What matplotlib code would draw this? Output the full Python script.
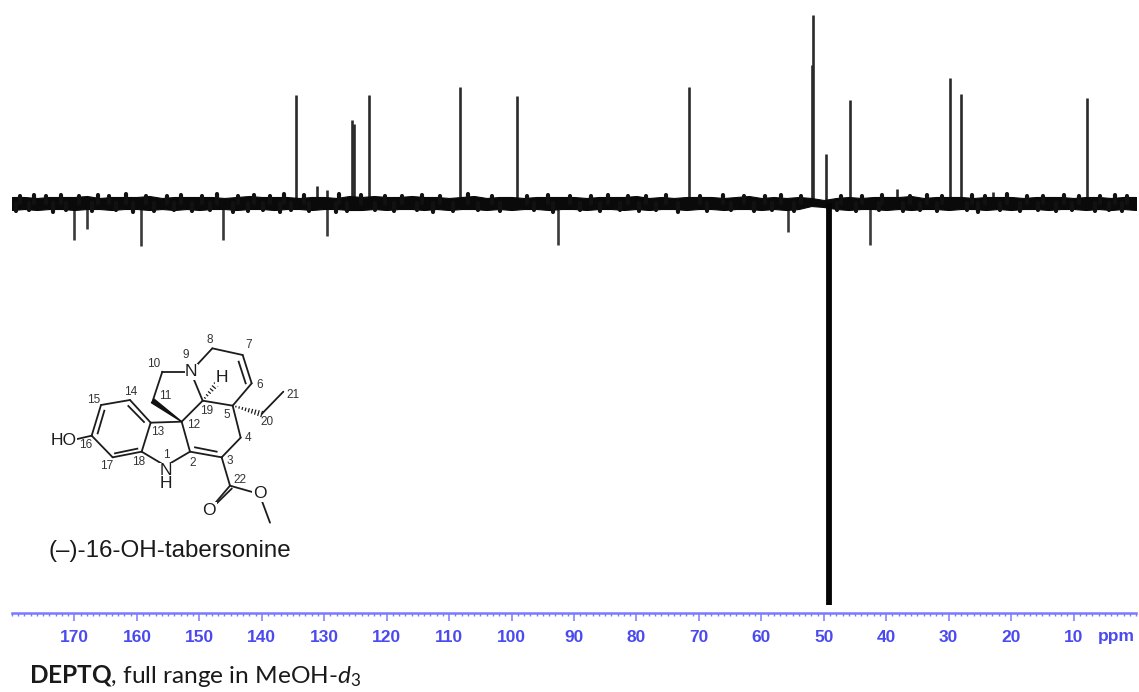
import matplotlib
matplotlib.use("Agg")
import matplotlib.pyplot as plt
from matplotlib.patches import Polygon

plt.rcParams['mathtext.fontset'] = 'custom'
plt.rcParams['mathtext.rm'] = 'Lato'
plt.rcParams['mathtext.it'] = 'Lato:italic'
plt.rcParams['mathtext.bf'] = 'Lato:bold'

# Spectrum peaks (ppm, intensity in arbitrary units, 0 = baseline)
pos_ppm = [134.5, 125.6, 125.3, 122.8, 108.3, 99.1, 71.6, 51.7, 51.95, 49.6, 45.8, 29.8, 28.0, 7.8,
           131.2, 129.6, 38.3, 22.9]
pos_int = [108, 83, 79, 108, 116, 107, 116, 188, 138, 49, 103, 125, 109, 105,
           17, 13, 14, 11]
neg_ppm = [170.1, 168.0, 159.4, 146.2, 129.6, 92.6, 55.7, 42.6]
neg_int = [-37, -26, -43, -37, -33, -42, -29, -42]
solvent_ppm = 49.1
solvent_int = -402

# Baseline band envelope, one value per 2 ppm, from 180 to 0 ppm
band_ppm = list(range(180, -2, -2))
band_top = [6, 6, 5, 6, 6, 6, 7, 5, 6, 6, 6, 7, 5, 6, 6, 6, 6, 5, 6, 7,
            6, 6, 6, 5, 6, 6, 5, 7, 6, 7, 6, 6, 7, 6, 6, 5, 6, 7, 5, 6,
            6, 5, 6, 6, 6, 6, 5, 6, 6, 6, 7, 5, 6, 5, 6, 6, 6, 5, 6, 7,
            5, 6, 5, 6, 5, 3, 5, 6, 5, 6, 6, 6, 7, 5, 6, 6, 6, 5, 6, 6,
            6, 5, 6, 6, 6, 5, 6, 6, 5, 6, 6]
band_bot = [-7, -6, -7, -6, -6, -7, -6, -6, -7, -6, -6, -7, -6, -7, -6, -7, -6, -6, -7, -6,
            -6, -7, -6, -6, -7, -6, -6, -7, -7, -6, -7, -6, -6, -7, -6, -7, -6, -6, -7, -6,
            -7, -6, -6, -7, -6, -6, -7, -6, -6, -7, -6, -7, -6, -6, -7, -6, -6, -7, -6, -6,
            -7, -6, -7, -6, -3, -4, -6, -7, -6, -6, -7, -6, -7, -6, -6, -7, -6, -6, -7, -6,
            -7, -6, -6, -7, -6, -6, -7, -6, -7, -6, -7]

# Small noise bumps on the baseline
up_ppm = [178.7, 176.4, 174.6, 172.1, 169.3, 166.2, 164.5, 161.8, 158.6, 155.2, 152.9, 149.6, 147.1, 143.8,
          141.3, 138.7, 136.4, 133.2, 127.6, 124.1, 120.2, 117.6, 114.3, 111.5, 106.9, 103.2, 97.6, 94.1,
          90.7, 87.2, 84.6, 81.3, 78.4, 75.2, 69.8, 66.1, 62.7, 59.4, 56.8, 53.6, 47.3, 43.9, 40.6, 36.2,
          33.4, 31.1, 26.3, 24.2, 20.7, 17.4, 14.9, 11.6, 9.2, 5.7, 3.3, 1.4]
up_int = [7, 8, 7, 8, 7, 8, 7, 9, 7, 7, 8, 7, 9, 7, 8, 7, 9, 8, 9, 8, 7, 7, 8, 7, 9, 7, 7, 8,
          7, 7, 8, 7, 7, 8, 7, 8, 7, 7, 8, 7, 7, 7, 8, 7, 8, 7, 8, 7, 9, 7, 7, 8, 7, 7, 8, 7]
down_ppm = [179.4, 177.2, 173.5, 171.3, 167.2, 163.4, 160.7, 157.3, 154.1, 151.2, 148.3, 144.6, 142.2, 139.8,
            137.1, 135.3, 132.4, 128.1, 126.4, 121.9, 118.8, 115.1, 112.6, 109.4, 105.3, 101.8, 96.4, 93.3,
            89.1, 85.9, 82.7, 79.6, 76.8, 73.4, 68.7, 64.9, 61.2, 58.3, 54.7, 47.9, 44.8, 41.1, 37.3, 34.6,
            31.9, 27.1, 25.3, 21.8, 18.6, 15.7, 12.8, 10.3, 6.6, 4.4, 2.2]
down_int = [-8, -7, -9, -7, -8, -7, -9, -8, -7, -8, -7, -9, -8, -7, -9, -7, -8, -9, -8, -7, -8, -7, -9,
            -8, -7, -8, -7, -9, -7, -8, -7, -8, -7, -9, -8, -7, -8, -7, -8, -7, -8, -7, -8, -7, -8, -7,
            -9, -7, -8, -7, -8, -7, -8, -7, -8]

major_ticks = [170, 160, 150, 140, 130, 120, 110, 100, 90, 80, 70, 60, 50, 40, 30, 20, 10]
minor_ticks = list(range(180, -1, -1))

# Molecule drawing: points in reference-crop units
atoms = {
    'c16': (275, 287), 'c15': (303, 195), 'c14': (390, 180), 'c13': (452, 248), 'c18': (425, 335),
    'c17': (338, 352), 'c12': (545, 245), 'n1': (497, 378), 'c2': (570, 335), 'c3': (665, 352),
    'c4': (722, 293), 'c5': (698, 197), 'c19': (608, 182), 'n9': (572, 95), 'c10': (487, 95),
    'c11': (458, 183), 'c8': (637, 25), 'c7': (728, 45), 'c6': (755, 130), 'c20': (785, 222),
    'c21': (850, 155), 'c22': (690, 437), 'od': (628, 510), 'os': (778, 462), 'ch3': (810, 548),
    'oh': (232, 297), 'hh': (655, 125),
}
single = [('c16', 'c15'), ('c15', 'c14'), ('c14', 'c13'), ('c13', 'c18'), ('c18', 'c17'), ('c17', 'c16'),
          ('c13', 'c12'), ('c18', 'n1'), ('n1', 'c2'), ('c2', 'c12'), ('c2', 'c3'), ('c3', 'c4'),
          ('c4', 'c5'), ('c5', 'c19'), ('c19', 'c12'), ('c19', 'n9'), ('n9', 'c10'), ('c10', 'c11'),
          ('n9', 'c8'), ('c8', 'c7'), ('c7', 'c6'), ('c6', 'c5'), ('c20', 'c21'), ('c3', 'c22'),
          ('c22', 'os'), ('os', 'ch3'), ('oh', 'c16'), ('c22', 'od')]
inner_double = [((293, 280), (313, 212)), ((385, 198), (432, 246)), ((345, 340), (412, 326)),
                ((585, 322), (650, 335)), ((716, 65), (737, 130)), ((640, 500), (695, 446))]
atom_labels = [('HO', 190, 302, 12.5), ('N', 574, 96, 12.5), ('H', 666, 113, 12.5), ('N', 497, 392, 12.5),
               ('H', 497, 431, 12.5), ('O', 628, 511, 12.5), ('O', 779, 462, 12.5)]
num_labels = [('8', 628, 0), ('7', 747, 16), ('9', 557, 46), ('10', 460, 73), ('6', 779, 135), ('21', 878, 165),
              ('14', 392, 155), ('11', 497, 168), ('15', 282, 180), ('19', 620, 212), ('5', 680, 224),
              ('20', 802, 247), ('12', 582, 256), ('13', 474, 275), ('4', 745, 295), ('16', 258, 316),
              ('1', 500, 345), ('18', 416, 365), ('2', 578, 370), ('3', 688, 364), ('17', 321, 378), ('22', 720, 420)]

W, H = 1139, 692
fig = plt.figure(figsize=(W / 100, H / 100), dpi=100, facecolor='white')
L, R, B = 12, 1136, 613
ax = fig.add_axes([L / W, 1 - B / H, (R - L) / W, B / H])
ax.set_xlim(180, 0)
ax.set_ylim(-410, 203)
ax.patch.set_alpha(0)
for s in ['top', 'left', 'right']:
    ax.spines[s].set_visible(False)
blue = '#4a4af0'
ax.spines['bottom'].set_color('#7a7aff')
ax.spines['bottom'].set_linewidth(1.8)

ax.fill_between(band_ppm, band_bot, band_top, color='#0a0a0a', lw=0.8, zorder=3)
ax.vlines(up_ppm, 0, up_int, color='#111111', lw=3.0, zorder=3, capstyle='round')
ax.vlines(down_ppm, 0, down_int, color='#111111', lw=3.0, zorder=3, capstyle='round')
ax.vlines(pos_ppm, 0, pos_int, color='#2a2a2a', lw=1.9, zorder=2)
ax.vlines(neg_ppm, 0, neg_int, color='#3a3a3a', lw=1.9, zorder=2)
ax.vlines([solvent_ppm], 0, [solvent_int], color='#050505', lw=4.2, zorder=4)

ax.set_yticks([])
ax.set_xticks(major_ticks)
ax.set_xticklabels([str(t) for t in major_ticks], fontsize=12.5, fontweight='bold', color=blue,
                   family='Liberation Sans')
ax.set_xticks(minor_ticks, minor=True)
ax.tick_params(axis='x', which='major', length=6, width=1.1, color='#7a7aff', pad=6)
ax.tick_params(axis='x', which='minor', length=2.2, width=1.0, color='#7a7aff')
fig.text(1116 / W, 1 - 637 / H, 'ppm', fontsize=12.5, fontweight='bold', color=blue,
         family='Liberation Sans', ha='center', va='center')

# Overlay for molecule, in pixels
ov = fig.add_axes([0, 0, 1, 1])
ov.set_xlim(0, W)
ov.set_ylim(H, 0)
ov.axis('off')
ov.patch.set_alpha(0)


def P(p):
    return (p[0] / 3, 340 + p[1] / 3)


mol_c = '#1c1c1c'
for a, b in single:
    pa, pb = P(atoms[a]), P(atoms[b])
    ov.plot([pa[0], pb[0]], [pa[1], pb[1]], color=mol_c, lw=1.3, solid_capstyle='round', zorder=5)
for a, b in inner_double:
    pa, pb = P(a), P(b)
    ov.plot([pa[0], pb[0]], [pa[1], pb[1]], color=mol_c, lw=1.3, zorder=5)

# wedge 12 -> 11
tip = P(atoms['c12'])
e = atoms['c11']
ov.add_patch(Polygon([tip, P((e[0] - 4, e[1] + 5)), P((e[0] + 5, e[1] - 5))], closed=True, color='#111111', zorder=5))


def hash_bond(a, b, n, w):
    (x0, y0), (x1, y1) = P(atoms[a]), P(atoms[b])
    dx, dy = x1 - x0, y1 - y0
    ln = (dx * dx + dy * dy) ** 0.5
    nx, ny = -dy / ln, dx / ln
    for i in range(1, n + 1):
        t = i / n
        hw = w * t
        cx, cy = x0 + dx * t, y0 + dy * t
        ov.plot([cx - nx * hw, cx + nx * hw], [cy - ny * hw, cy + ny * hw], color=mol_c, lw=0.9, zorder=5)


hash_bond('c5', 'c20', 9, 2.6)
hash_bond('c19', 'hh', 7, 2.6)

for s, x, y, fs in atom_labels:
    px, py = P((x, y))
    ov.text(px, py, s, fontsize=fs, color=mol_c, family='Liberation Sans', ha='center', va='center', zorder=6,
            bbox=dict(facecolor='white', edgecolor='none', pad=0.4))
for s, x, y in num_labels:
    px, py = P((x, y))
    ov.text(px, py, s, fontsize=8.5, color='#333333', family='Liberation Sans', ha='center', va='center', zorder=7)

ov.text(49, 551, '(–)-16-OH-tabersonine', fontsize=17.4, color='#1a1a1a', family='Liberation Sans',
        ha='left', va='center')
ov.text(29, 676, r'$\mathbf{DEPTQ}$, full range in MeOH-$\mathit{d}_3$', fontsize=17.6, color='#1a1a1a',
        family='Lato', ha='left', va='center')

fig.savefig('out.png', dpi=100, facecolor='white')
